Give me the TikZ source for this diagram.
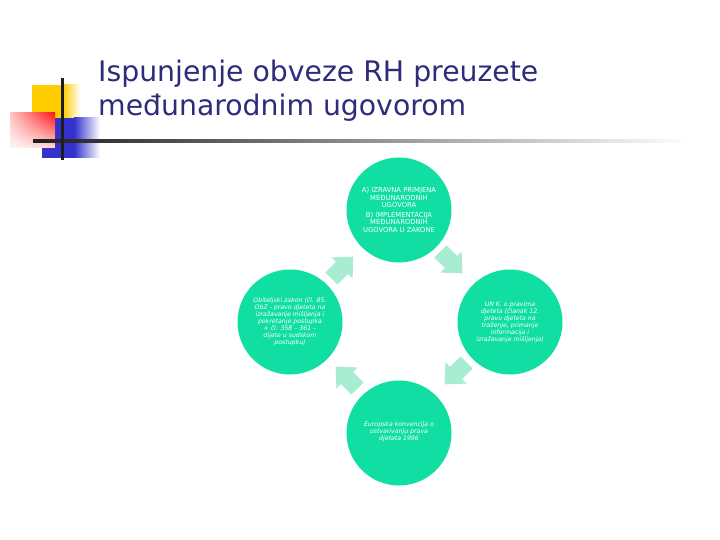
\documentclass[tikz,border=0pt]{standalone}
\usepackage{fontspec}
\setmainfont{DejaVu Sans}
\usetikzlibrary{fadings}
\definecolor{circc}{RGB}{16,222,162}
\definecolor{arrowc}{RGB}{168,236,210}
\definecolor{titlec}{RGB}{44,44,122}
\definecolor{yellowc}{RGB}{255,204,0}
\definecolor{bluec}{RGB}{51,51,204}
\definecolor{redc}{RGB}{255,20,20}
\definecolor{linec}{RGB}{30,30,30}
\tikzset{
  bubble/.style={circle, fill=circc, minimum size=105pt, inner sep=0pt, text=white, align=center},
  titletext/.style={anchor=base west, text=titlec, font=\fontsize{28.3}{33}\selectfont, inner sep=0pt},
  blockarr/.style={fill=arrowc}
}
\newcommand\blockarrow[3]{\fill[blockarr, shift={(#1,#2)}, rotate=#3] (-15,-8.5) -- (0,-8.5) -- (0,-15) -- (16,0) -- (0,15) -- (0,8.5) -- (-15,8.5) -- cycle;}
\begin{document}
\begin{tikzpicture}[x=1pt,y=-1pt]
\useasboundingbox (0,0) rectangle (720,540);
\fill[white] (0,0) rectangle (720,540);
% logo
\fill[yellowc] (32,85) rectangle (63,118);
\shade[left color=yellowc, right color=white] (63,85) rectangle (80,118);
\fill[bluec] (42,118) rectangle (74,158);
\shade[left color=bluec, right color=white] (74,118) rectangle (100,158);
\shade[left color=redc!25!white, right color=redc] (10,113) rectangle (55,148);
\fill[white, fill opacity=0.85, path fading=north] (10,113) rectangle (55,148);
\shade[left color=linec, right color=white] (33,139.5) rectangle (690,142.5);
\fill[linec] (60.5,78) rectangle (63.5,160);
% title
\node[titletext] (title1) at (98,82) {Ispunjenje obveze RH preuzete};
\node[titletext] (title2) at (98,116) {međunarodnim ugovorom};
% circles
\node[bubble] (top) at (399,210) {\parbox{90pt}{\centering\fontsize{6.8}{7.7}\selectfont A) IZRAVNA PRIMJENA\\ MEĐUNARODNIH\\ UGOVORA\\[1.5pt] B) IMPLEMENTACIJA\\ MEĐUNARODNIH\\ UGOVORA U ZAKONE}};
\node[bubble] (right) at (510,322) {\parbox{90pt}{\centering\fontsize{6.2}{7}\selectfont\itshape UN K. o pravima\\ djeteta (članak 12.\\ pravo djeteta na\\ traženje, primanje\\ informacija i\\ izražavanje mišljenja)}};
\node[bubble] (bottom) at (399,433) {\parbox{90pt}{\centering\fontsize{6.2}{7}\selectfont\itshape Europska konvencija o\\ ostvarivanju prava\\ djeteta 1996\\[3pt]}};
\node[bubble] (left) at (290,322) {\parbox{90pt}{\centering\fontsize{6.2}{7}\selectfont\itshape Obiteljski zakon (čl. 85.\\ ObZ - pravo djeteta na\\ izražavanje mišljenja i\\ pokretanje postupka\\ + čl. 358 – 361 –\\ dijete u sudskom\\ postupku)}};
% arrows
\blockarrow{451}{262}{-45}
\blockarrow{456}{373}{-135}
\blockarrow{347}{378}{135}
\blockarrow{342}{268}{45}
\end{tikzpicture}
\end{document}
